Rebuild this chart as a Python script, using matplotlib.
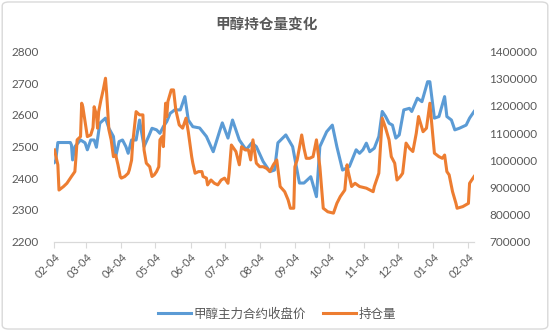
import matplotlib
matplotlib.use('Agg')
import matplotlib.pyplot as plt
import matplotlib.dates as mdates
from matplotlib.ticker import StrMethodFormatter
from matplotlib.patches import FancyBboxPatch
import pandas as pd

plt.rcParams['font.family'] = ['Lato', 'Noto Sans CJK SC', 'DejaVu Sans']

# 甲醇主力合约收盘价 (left axis)
price_dates = ['2019-02-04', '2019-02-05', '2019-02-07', '2019-02-18', '2019-02-19', '2019-02-20',
               '2019-02-22', '2019-02-27', '2019-03-03', '2019-03-05', '2019-03-08', '2019-03-11',
               '2019-03-13', '2019-03-16', '2019-03-21', '2019-03-24', '2019-03-28', '2019-03-30',
               '2019-04-02', '2019-04-05', '2019-04-08', '2019-04-10', '2019-04-13', '2019-04-17',
               '2019-04-20', '2019-04-24', '2019-04-28', '2019-05-01', '2019-05-05', '2019-05-08',
               '2019-05-11', '2019-05-14', '2019-05-17', '2019-05-21', '2019-05-26', '2019-05-30',
               '2019-06-02', '2019-06-06', '2019-06-12', '2019-06-18', '2019-06-24', '2019-06-30',
               '2019-07-02', '2019-07-07', '2019-07-11', '2019-07-17', '2019-07-23', '2019-07-28',
               '2019-08-01', '2019-08-07', '2019-08-13', '2019-08-17', '2019-08-20', '2019-08-27',
               '2019-09-02', '2019-09-08', '2019-09-12', '2019-09-18', '2019-09-23', '2019-09-26',
               '2019-10-02', '2019-10-07', '2019-10-11', '2019-10-16', '2019-10-22', '2019-10-28',
               '2019-10-31', '2019-11-03', '2019-11-06', '2019-11-09', '2019-11-13', '2019-11-17',
               '2019-11-20', '2019-11-23', '2019-11-26', '2019-11-29', '2019-12-02', '2019-12-05',
               '2019-12-09', '2019-12-14', '2019-12-16', '2019-12-21', '2019-12-25', '2019-12-30',
               '2020-01-01', '2020-01-05', '2020-01-09', '2020-01-14', '2020-01-16', '2020-01-20',
               '2020-01-23', '2020-01-27', '2020-02-02', '2020-02-05', '2020-02-09']
price = [2450, 2453, 2513, 2513, 2505, 2458,
         2500, 2521, 2512, 2490, 2521, 2521,
         2498, 2574, 2590, 2558, 2532, 2468,
         2516, 2521, 2500, 2479, 2521, 2521,
         2584, 2500, 2532, 2558, 2553, 2542,
         2563, 2579, 2605, 2616, 2616, 2658,
         2584, 2563, 2559, 2532, 2484, 2553,
         2575, 2527, 2584, 2521, 2490, 2512,
         2500, 2453, 2421, 2426, 2512, 2537,
         2500, 2385, 2385, 2405, 2342, 2500,
         2547, 2568, 2500, 2426, 2437, 2490,
         2479, 2490, 2511, 2484, 2495, 2532,
         2611, 2595, 2574, 2568, 2527, 2537,
         2616, 2621, 2611, 2653, 2642, 2705,
         2705, 2590, 2595, 2658, 2595, 2584,
         2553, 2558, 2568, 2590, 2611]

# 持仓量 (right axis)
oi_dates = ['2019-02-04', '2019-02-07', '2019-02-08', '2019-02-12', '2019-02-15', '2019-02-19',
            '2019-02-22', '2019-02-23', '2019-02-24', '2019-02-27', '2019-02-28', '2019-03-01',
            '2019-03-03', '2019-03-05', '2019-03-08', '2019-03-10', '2019-03-11', '2019-03-13',
            '2019-03-14', '2019-03-15', '2019-03-17', '2019-03-19', '2019-03-21', '2019-03-22',
            '2019-03-24', '2019-03-26', '2019-03-28', '2019-03-30', '2019-04-01', '2019-04-03',
            '2019-04-04', '2019-04-07', '2019-04-10', '2019-04-11', '2019-04-13', '2019-04-14',
            '2019-04-17', '2019-04-20', '2019-04-23', '2019-04-24', '2019-04-26', '2019-04-29',
            '2019-05-01', '2019-05-03', '2019-05-05', '2019-05-07', '2019-05-08', '2019-05-10',
            '2019-05-11', '2019-05-13', '2019-05-14', '2019-05-15', '2019-05-18', '2019-05-20',
            '2019-05-22', '2019-05-25', '2019-05-28', '2019-05-31', '2019-06-02', '2019-06-05',
            '2019-06-06', '2019-06-08', '2019-06-11', '2019-06-14', '2019-06-15', '2019-06-18',
            '2019-06-19', '2019-06-22', '2019-06-25', '2019-06-28', '2019-07-01', '2019-07-04',
            '2019-07-07', '2019-07-08', '2019-07-10', '2019-07-14', '2019-07-17', '2019-07-19',
            '2019-07-22', '2019-07-25', '2019-07-27', '2019-07-29', '2019-08-01', '2019-08-04',
            '2019-08-07', '2019-08-10', '2019-08-13', '2019-08-16', '2019-08-19', '2019-08-22',
            '2019-08-26', '2019-08-29', '2019-08-31', '2019-09-03', '2019-09-04', '2019-09-06',
            '2019-09-10', '2019-09-12', '2019-09-14', '2019-09-17', '2019-09-20', '2019-09-23',
            '2019-09-26', '2019-09-29', '2019-10-03', '2019-10-08', '2019-10-11', '2019-10-14',
            '2019-10-18', '2019-10-20', '2019-10-21', '2019-10-24', '2019-10-27', '2019-10-31',
            '2019-11-06', '2019-11-12', '2019-11-13', '2019-11-16', '2019-11-17', '2019-11-20',
            '2019-11-23', '2019-11-26', '2019-11-28', '2019-12-01', '2019-12-03', '2019-12-06',
            '2019-12-08', '2019-12-11', '2019-12-14', '2019-12-17', '2019-12-20', '2019-12-22',
            '2019-12-26', '2019-12-29', '2020-01-01', '2020-01-05', '2020-01-09', '2020-01-12',
            '2020-01-14', '2020-01-16', '2020-01-18', '2020-01-21', '2020-01-24', '2020-01-25',
            '2020-01-30', '2020-02-04', '2020-02-05', '2020-02-09']
oi = [1038000, 983000, 890000, 903000, 915000, 940000,
      958000, 1013000, 1075000, 1087000, 1210000, 1197000,
      1142000, 1087000, 1093000, 1120000, 1197000, 1167000,
      1118000, 1179000, 1222000, 1259000, 1302000, 1247000,
      1112000, 1075000, 1013000, 1019000, 983000, 940000,
      934000, 940000, 952000, 964000, 1000000, 1063000,
      1179000, 1167000, 1167000, 1038000, 989000, 976000,
      940000, 946000, 958000, 976000, 1075000, 1087000,
      1050000, 1210000, 1160000, 1216000, 1259000, 1259000,
      1185000, 1130000, 1118000, 1155000, 1105000, 1013000,
      989000, 952000, 958000, 958000, 940000, 934000,
      909000, 927000, 915000, 909000, 927000, 934000,
      915000, 952000, 1056000, 1032000, 983000, 1050000,
      1038000, 1038000, 1001000, 1075000, 989000, 976000,
      976000, 970000, 958000, 983000, 1001000, 903000,
      884000, 854000, 823000, 823000, 976000, 1001000,
      1093000, 1044000, 1007000, 1007000, 1013000, 1075000,
      976000, 823000, 810000, 805000, 841000, 866000,
      890000, 983000, 958000, 903000, 915000, 903000,
      897000, 884000, 903000, 940000, 952000, 1155000,
      1118000, 1075000, 1013000, 989000, 927000, 940000,
      952000, 1063000, 1044000, 1032000, 1099000, 1161000,
      1105000, 1118000, 1210000, 1026000, 1013000, 1007000,
      1019000, 958000, 946000, 884000, 841000, 823000,
      829000, 841000, 915000, 940000]

blue = '#5B9BD5'
orange = '#ED7D31'
grey = '#595959'
axis_grey = '#D9D9D9'

fig = plt.figure(figsize=(5.5, 3.31), dpi=100)
fig.patches.append(FancyBboxPatch((0.004, 0.006), 0.992, 0.988, boxstyle='round,pad=0,rounding_size=0.012',
                                  transform=fig.transFigure, facecolor='none', edgecolor=axis_grey,
                                  lw=1.0, zorder=-1))

ax = fig.add_axes([0.099, 0.270, 0.763, 0.574])
ax.patch.set_alpha(0)
ax2 = ax.twinx()
ax2.patch.set_alpha(0)

l1, = ax.plot(pd.to_datetime(price_dates), price, color=blue, lw=2.2, solid_joinstyle='round', label='甲醇主力合约收盘价')
l2, = ax2.plot(pd.to_datetime(oi_dates), oi, color=orange, lw=2.2, solid_joinstyle='round', label='持仓量')

ax.set_ylim(2200, 2800)
ax.set_yticks(range(2200, 2801, 100))
ax2.set_ylim(700000, 1400000)
ax2.set_yticks(range(700000, 1400001, 100000))
ax2.yaxis.set_major_formatter(StrMethodFormatter('{x:.0f}'))
ax.set_xlim(pd.Timestamp('2019-02-04'), pd.Timestamp('2020-02-09'))

ax.xaxis.set_major_locator(mdates.MonthLocator(bymonthday=4))
ax.xaxis.set_major_formatter(mdates.DateFormatter('%m-%d'))
for lab in ax.get_xticklabels():
    lab.set_rotation(45)
    lab.set_ha('right')
    lab.set_rotation_mode('anchor')

for a in (ax, ax2):
    for s in ('top', 'left', 'right'):
        a.spines[s].set_visible(False)
    a.spines['bottom'].set_color(axis_grey)
    a.tick_params(axis='y', length=0, labelsize=8.5, labelcolor=grey, pad=11)
ax.tick_params(axis='x', length=4, color=axis_grey, labelsize=8, labelcolor=grey, pad=3)

fig.text(0.484, 0.925, '甲醇持仓量变化', ha='center', va='center', fontsize=10.5,
         fontweight='bold', color=grey, family=['Noto Sans CJK SC'])

fig.legend(handles=[l1, l2], loc='center', bbox_to_anchor=(0.504, 0.051), ncol=2, frameon=False,
           labelcolor=grey, handlelength=2.6, columnspacing=1.4, handletextpad=0.2,
           prop={'family': ['Noto Sans CJK SC'], 'size': 9})

fig.savefig('out.png', dpi=100)
